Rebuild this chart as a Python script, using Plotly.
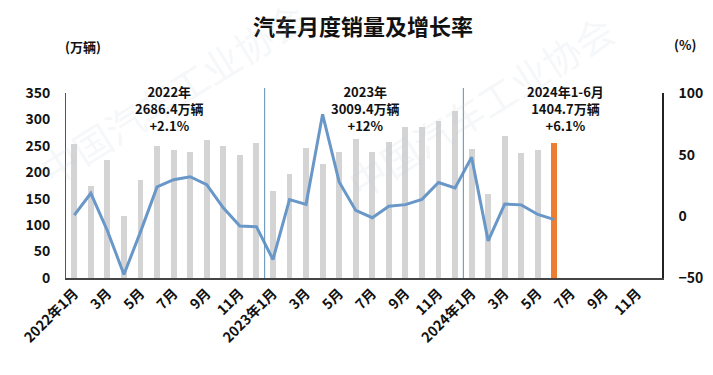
import plotly.graph_objects as go

months = [f"{y}-{m:02d}" for y in (2022, 2023, 2024) for m in range(1, 13)]
tick_labels = ["2022年1月", "3月", "5月", "7月", "9月", "11月",
               "2023年1月", "3月", "5月", "7月", "9月", "11月",
               "2024年1月", "3月", "5月", "7月", "9月", "11月"]

sales = [253.1, 173.7, 223.4, 118.1, 186.2, 250.2, 242.0, 238.3, 261.0, 250.5, 232.5, 255.6,
         164.9, 197.6, 245.1, 215.9, 238.2, 262.2, 238.7, 258.2, 285.8, 285.3, 297.0, 315.6,
         243.9, 158.4, 269.4, 235.9, 241.7, 255.2]
growth = [0.9, 18.7, -11.7, -47.1, -12.6, 23.8, 29.7, 32.1, 25.7, 6.9, -7.9, -8.4,
          -35.0, 13.5, 9.7, 82.7, 27.9, 4.8, -1.1, 8.2, 9.5, 13.8, 27.4, 23.1,
          47.9, -19.9, 9.9, 9.3, 1.5, -2.7]

year_notes = ["2022年<br>2686.4万辆<br>+2.1%", "2023年<br>3009.4万辆<br>+12%", "2024年1-6月<br>1404.7万辆<br>+6.1%"]
note_x = [5.75, 17.6, 29.7]

idx = list(range(len(months)))
n = len(sales)
bar_colors = ["#d4d4d4"] * (n - 1) + ["#ed7d31"]

FONT = "Noto Sans CJK SC"

fig = go.Figure()
fig.add_trace(go.Bar(x=idx[:n], y=sales, marker_color=bar_colors, marker_line_width=0,
                     width=0.36, yaxis="y", showlegend=False))
fig.add_trace(go.Scatter(x=idx[:len(growth)], y=growth, mode="lines",
                         line=dict(color="#6897c8", width=3), yaxis="y2", showlegend=False))

shapes = []
for xb in (11.5, 23.5):
    shapes.append(dict(type="line", xref="x", yref="paper", x0=xb, x1=xb, y0=0, y1=1.027,
                       line=dict(color="#5b8db8", width=1)))

annotations = []
# watermark (drawn first)
for wx, wy in (((172 - 66) / 596, (278 - 92) / 185), ((480 - 66) / 596, (278 - 105) / 185)):
    annotations.append(dict(text="中国汽车工业协会", x=wx, y=wy, xref="paper", yref="paper",
                            xanchor="center", yanchor="middle",
                            showarrow=False, textangle=-32,
                            font=dict(size=38, color="rgba(195,205,220,0.16)", family=FONT)))
for t, xv in zip(year_notes, note_x):
    annotations.append(dict(text=f"<b>{t}</b>", x=xv, xref="x", y=0.916, yref="paper",
                            showarrow=False, font=dict(size=13, color="#111", family=FONT),
                            xanchor="center", yanchor="middle"))
annotations.append(dict(text="<b>(万辆)</b>", x=-0.005, xref="paper", y=1.25, yref="paper",
                        showarrow=False, xanchor="left", yanchor="middle",
                        font=dict(size=13, color="#111", family=FONT)))
annotations.append(dict(text="<b>(%)</b>", x=1.017, xref="paper", y=1.26, yref="paper",
                        showarrow=False, xanchor="left", yanchor="middle",
                        font=dict(size=13, color="#111", family=FONT)))

fig.update_layout(
    width=713, height=375,
    margin=dict(l=66, r=51, t=93, b=97, autoexpand=False),
    plot_bgcolor="white", paper_bgcolor="white",
    hovermode=False,
    title=dict(text="<b>汽车月度销量及增长率</b>", x=363 / 713, xanchor="center", y=1 - 27 / 375,
               yanchor="middle", font=dict(size=22, color="#111", family=FONT)),
    font=dict(family=FONT, color="#111"),
    bargap=0,
    xaxis=dict(range=[-0.5, 35.5], tickmode="array", tickvals=list(range(0, 36, 2)),
               ticktext=[f"<b>{t}</b>" for t in tick_labels], tickangle=-45,
               tickfont=dict(size=14, family=FONT, color="#111"), automargin=False,
               ticklabelstandoff=0,
               showline=True, linecolor="#444", linewidth=1.5, ticks="", showgrid=False,
               zeroline=False),
    yaxis=dict(range=[0, 350], dtick=50, showline=True, linecolor="#555", linewidth=1,
               showgrid=False, zeroline=False, ticks="", automargin=False, ticklabelstandoff=12,
               tickfont=dict(size=14, family=FONT, color="#111"), tickprefix="<b>", ticksuffix="</b>"),
    yaxis2=dict(range=[-50, 100], dtick=50, overlaying="y", side="right", showline=True,
                linecolor="#222", linewidth=1.5, showgrid=False, zeroline=False, ticks="",
                automargin=False, ticklabelstandoff=12,
                tickfont=dict(size=14, family=FONT, color="#111"), tickprefix="<b>", ticksuffix="</b>"),
    shapes=shapes, annotations=annotations,
)
fig.write_html("out.html", config={"displayModeBar": False},
               post_script="document.body.style.margin='0';")
